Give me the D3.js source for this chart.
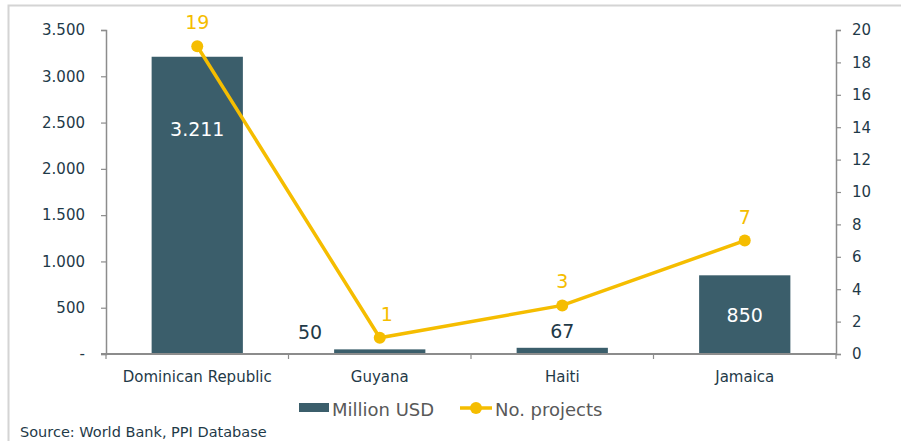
<!DOCTYPE html>
<html><head><meta charset="utf-8">
<script src="https://cdn.jsdelivr.net/npm/d3@7"></script>
<style>body{margin:0;background:#fff;} svg{display:block;font-family:Verdana,"DejaVu Sans",sans-serif;}</style>
</head><body>
<script>
const categories = ["Dominican Republic","Guyana","Haiti","Jamaica"];
const millionUSD = [3211,50,67,850];
const projects = [19,1,3,7];
const barLabels = ["3.211","50","67","850"];
const leftTicks = [0,500,1000,1500,2000,2500,3000,3500];
const leftTickLabels = ["-","500","1.000","1.500","2.000","2.500","3.000","3.500"];
const rightTicks = [0,2,4,6,8,10,12,14,16,18,20];

const W=901,H=441;
const svg=d3.select("body").append("svg").attr("width",W).attr("height",H);
const barColor="#3b5e6b", lineColor="#f5bd00", textColor="#1f3a48", axisColor="#8c8c8c";

// border
svg.append("path").attr("d","M8.5,441 L8.5,5.5 L901,5.5").attr("fill","none").attr("stroke","#d4d4d4").attr("stroke-width",2);

const x0=106,x1=836,yTop=30,yBot=354;
const x=d3.scaleBand().domain(categories).range([x0,x1]).paddingInner(0.5).paddingOuter(0.25);
const yL=d3.scaleLinear().domain([0,3500]).range([yBot,yTop]);
const yR=d3.scaleLinear().domain([0,20]).range([yBot,yTop]);

// bars
svg.selectAll("rect.bar").data(categories).enter().append("rect")
  .attr("x",d=>x(d)).attr("width",x.bandwidth())
  .attr("y",(d,i)=>yL(millionUSD[i])).attr("height",(d,i)=>yBot-yL(millionUSD[i]))
  .attr("fill",barColor);

// left axis
const gL=svg.append("g").attr("transform",`translate(${x0},0)`)
  .call(d3.axisLeft(yL).tickValues(leftTicks).tickFormat((d,i)=>leftTickLabels[i]).tickSize(5).tickPadding(16));
// right axis
const gR=svg.append("g").attr("transform",`translate(${x1},0)`)
  .call(d3.axisRight(yR).tickValues(rightTicks).tickSize(5).tickPadding(11));
[gL,gR].forEach(g=>{
  g.select(".domain").attr("stroke",axisColor).attr("stroke-width",1.5);
  g.selectAll(".tick line").attr("stroke",axisColor).attr("stroke-width",1.2);
  g.selectAll(".tick text").attr("fill",textColor).style("font-size","15px").style("font-family","Verdana,'DejaVu Sans',sans-serif");
});
// x axis
const bottom=d3.scaleLinear().domain([0,4]).range([x0,x1]);
svg.append("line").attr("x1",x0-5).attr("x2",x1).attr("y1",yBot).attr("y2",yBot).attr("stroke",axisColor).attr("stroke-width",2);
svg.selectAll("line.xt").data([0,1,2,3,4]).enter().append("line")
  .attr("x1",d=>bottom(d)).attr("x2",d=>bottom(d)).attr("y1",yBot).attr("y2",yBot+5).attr("stroke",axisColor).attr("stroke-width",1.2);
svg.selectAll("text.xl").data(categories).enter().append("text")
  .attr("x",d=>x(d)+x.bandwidth()/2).attr("y",382).attr("text-anchor","middle")
  .attr("fill",textColor).style("font-size","15px").text(d=>d);

// bar labels
svg.selectAll("text.bl").data(categories).enter().append("text")
  .attr("x",(d,i)=> i===1 ? x(d)-12 : x(d)+x.bandwidth()/2)
  .attr("y",(d,i)=>{const v=millionUSD[i];
     if(v>2000) return yL(v)+79;
     return v>500 ? yL(v/2)+7 : yL(v)-10;})
  .attr("text-anchor",(d,i)=> i===1 ? "end":"middle")
  .attr("fill",(d,i)=>millionUSD[i]>500?"#ffffff":textColor)
  .style("font-size","19px").text((d,i)=>barLabels[i]);

// line
const cx=d=>x(d)+x.bandwidth()/2;
const line=d3.line().x((d,i)=>cx(categories[i])).y(d=>yR(d));
svg.append("path").datum(projects).attr("d",line).attr("fill","none").attr("stroke",lineColor).attr("stroke-width",3.5);
svg.selectAll("circle.pt").data(projects).enter().append("circle")
  .attr("cx",(d,i)=>cx(categories[i])).attr("cy",d=>yR(d)).attr("r",6).attr("fill",lineColor);
svg.selectAll("text.pl").data(projects).enter().append("text")
  .attr("x",(d,i)=>cx(categories[i])+(i===1?7:0)).attr("y",d=>yR(d)-17)
  .attr("text-anchor","middle").attr("fill",lineColor).style("font-size","19px").text(d=>d);

// legend
const lg=svg.append("g");
lg.append("rect").attr("x",299).attr("y",403).attr("width",30).attr("height",9).attr("fill",barColor);
lg.append("text").attr("x",332).attr("y",416).attr("fill","#595959").style("font-size","18px").text("Million USD");
lg.append("line").attr("x1",460).attr("x2",492).attr("y1",408).attr("y2",408).attr("stroke",lineColor).attr("stroke-width",3.5);
lg.append("circle").attr("cx",476).attr("cy",408).attr("r",6).attr("fill",lineColor);
lg.append("text").attr("x",495).attr("y",416).attr("fill","#595959").style("font-size","18px").text("No. projects");

svg.append("text").attr("x",20).attr("y",437).attr("fill",textColor).style("font-size","14.5px").text("Source: World Bank, PPI Database");
</script>
</body></html>
